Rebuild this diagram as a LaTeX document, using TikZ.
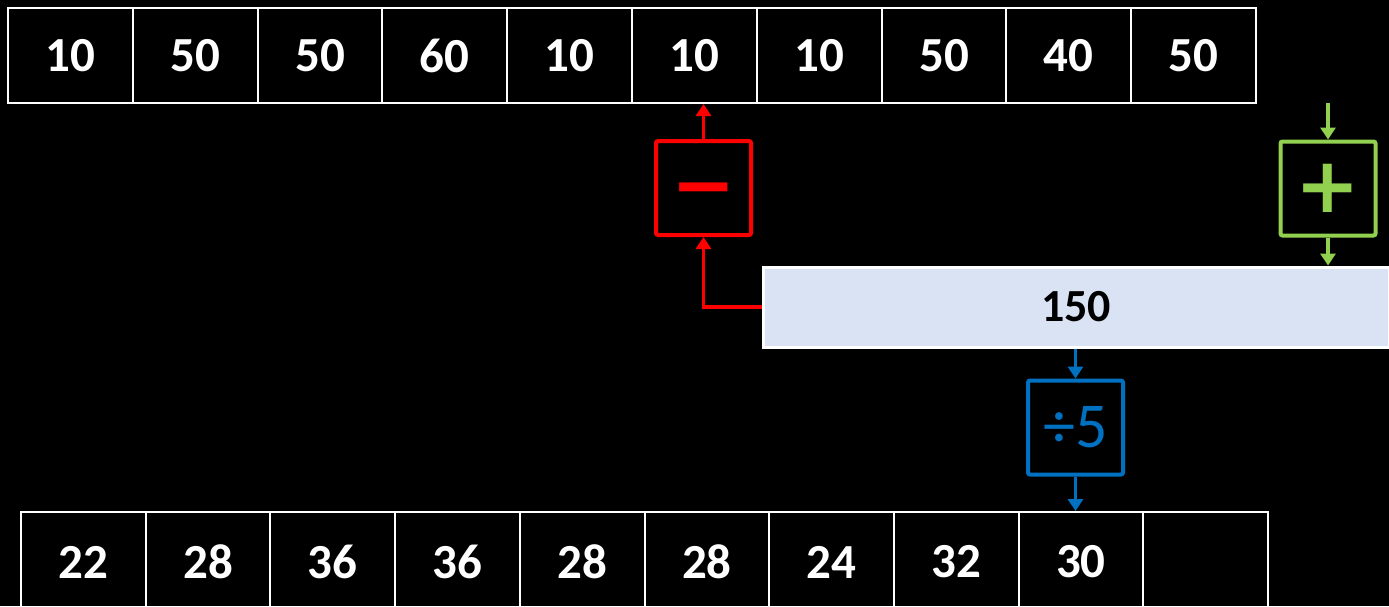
\documentclass[tikz,border=0pt]{standalone}
\usepackage{fontspec}
\setmainfont{Carlito}
\newfontfamily\symfont{DejaVu Sans}
\usetikzlibrary{arrows.meta}
\definecolor{opred}{HTML}{FF0000}
\definecolor{opgreen}{HTML}{92D050}
\definecolor{opblue}{HTML}{0070C0}
\definecolor{sumfill}{HTML}{DAE3F3}
\begin{document}
\begin{tikzpicture}[x=1pt,y=-1pt,
  cell/.style={draw=white,line width=2pt,minimum width=124.8pt,minimum height=95pt,inner sep=0pt,
    text=white,font=\fontsize{49}{49}\selectfont\bfseries},
  bcell/.style={cell,minimum width=124.7pt,minimum height=100pt},
  opbox/.style={line width=4pt,rounded corners=2pt,minimum width=95pt,minimum height=94pt,inner sep=0pt},
  symtext/.style={font=\symfont\bfseries\fontsize{77}{77}\selectfont},
  conn/.style={line width=3.5pt,-{Triangle[width=15pt,length=12pt]}},
  sumbox/.style={draw=white,fill=sumfill,line width=3pt,minimum width=626pt,minimum height=80pt,inner sep=0pt,
    text=black,font=\fontsize{46}{46}\selectfont\bfseries}]
\fill[black] (0,0) rectangle (1389,606);
\useasboundingbox (0,0) rectangle (1389,606);
\clip (0,0) rectangle (1389,606);
% top row
\foreach \v [count=\i from 0] in {10,50,50,60,10,10,10,50,40,50}
  \node[cell] (t\i) at ({8+124.8*(\i+0.5)},55.5) {\v};
% bottom row
\foreach \v [count=\i from 0] in {22,28,36,36,28,28,24,32,30,{}}
  \node[bcell] (b\i) at ({21+124.7*(\i+0.5)},562) {\v};
% sum box
\node[sumbox] (sum) at (1076,307) {150};
% operator boxes
\node[opbox,draw=opred,text=opred,symtext] (minus) at (703.5,188) {\raisebox{-23.6pt}[0pt][0pt]{−}};
\node[opbox,draw=opgreen,text=opgreen,symtext] (plus) at (1328,188.5) {+};
\node[opbox,draw=opblue,text=opblue,font=\fontsize{64}{64}\selectfont] (div) at (1075.5,427.5) {÷5};
% connectors
\coordinate (inplus) at (1328,103);
\draw[conn,opred] (sum.west) -| (minus.south);
\draw[conn,opred] (minus.north) -- (minus.north |- t5.south);
\draw[conn,opgreen] (inplus) -- (plus.north);
\draw[conn,opgreen] (plus.south) -- (plus.south |- sum.north);
\draw[conn,opblue] (div.north |- sum.south) -- (div.north);
\draw[conn,opblue] (div.south) -- (div.south |- b8.north);
\end{tikzpicture}
\end{document}
